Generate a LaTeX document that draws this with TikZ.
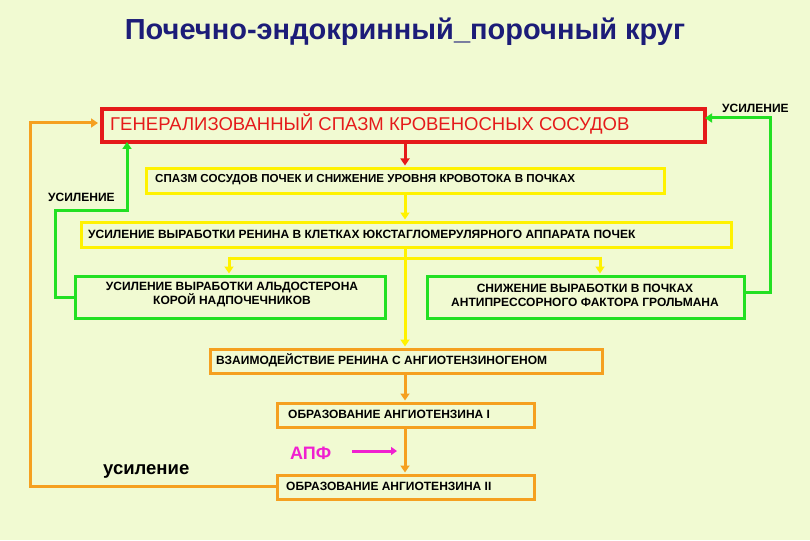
\documentclass[tikz,border=0pt]{standalone}
\usepackage{fontspec}
\setmainfont{Liberation Sans}
\usetikzlibrary{arrows.meta}
\definecolor{bg}{HTML}{F1FAD2}
\definecolor{tit}{HTML}{1C1C78}
\definecolor{rd}{HTML}{E51A1A}
\definecolor{yl}{HTML}{FFF200}
\definecolor{gr}{HTML}{22E022}
\definecolor{og}{HTML}{F5A020}
\definecolor{mg}{HTML}{F020D0}
\tikzset{x=1pt,y=-1pt,
 bx/.style={draw,line width=3pt,fill=bg,inner sep=0pt,anchor=north west},
 arr/.style={line width=3pt,-{Triangle[length=7pt,width=9pt]}},
 ln/.style={line width=3pt},
 tx/.style={font=\bfseries\fontsize{12}{14}\selectfont,inner sep=0pt}}
\begin{document}
\begin{tikzpicture}
\fill[bg] (0,0) rectangle (810,540);
\useasboundingbox (0,0) rectangle (810,540);
\node[font=\bfseries\fontsize{29}{34}\selectfont,text=tit] (title) at (405,32) {Почечно-эндокринный\_порочный круг};
% boxes
\node[bx,draw=rd,line width=4pt,minimum width=603pt,minimum height=33pt] (r) at (100,107) {};
\node[anchor=west,text=rd,font=\fontsize{18.5}{22}\selectfont,inner sep=0pt] at (110,124) {ГЕНЕРАЛИЗОВАННЫЙ СПАЗМ КРОВЕНОСНЫХ СОСУДОВ};
\node[bx,draw=yl,minimum width=518pt,minimum height=25pt] (y1) at (145,167) {};
\node[tx,anchor=west,font=\bfseries\fontsize{11.6}{14}\selectfont] at (155,180) {СПАЗМ СОСУДОВ ПОЧЕК И СНИЖЕНИЕ УРОВНЯ КРОВОТОКА В ПОЧКАХ};
\node[bx,draw=yl,minimum width=650pt,minimum height=25pt] (y2) at (80,221) {};
\node[tx,anchor=west] at (88,234) {УСИЛЕНИЕ ВЫРАБОТКИ РЕНИНА В КЛЕТКАХ ЮКСТАГЛОМЕРУЛЯРНОГО АППАРАТА ПОЧЕК};
\node[bx,draw=gr,minimum width=310pt,minimum height=42pt] (g1) at (74,275) {};
\node[tx,align=center] at (232,295) {УСИЛЕНИЕ ВЫРАБОТКИ АЛЬДОСТЕРОНА\\КОРОЙ НАДПОЧЕЧНИКОВ};
\node[bx,draw=gr,minimum width=317pt,minimum height=42pt] (g2) at (426,275) {};
\node[tx,align=center] at (585,295) {СНИЖЕНИЕ ВЫРАБОТКИ В ПОЧКАХ\\АНТИПРЕССОРНОГО ФАКТОРА ГРОЛЬМАНА};
\node[bx,draw=og,minimum width=392pt,minimum height=24pt] (o1) at (209,348) {};
\node[tx,anchor=west] at (216,360) {ВЗАИМОДЕЙСТВИЕ РЕНИНА С АНГИОТЕНЗИНОГЕНОМ};
\node[bx,draw=og,minimum width=257pt,minimum height=24pt] (o2) at (276,402) {};
\node[tx,anchor=west] at (288,414) {ОБРАЗОВАНИЕ АНГИОТЕНЗИНА I};
\node[bx,draw=og,minimum width=257pt,minimum height=24pt] (o3) at (276,474) {};
\node[tx,anchor=west] at (286,486) {ОБРАЗОВАНИЕ АНГИОТЕНЗИНА II};
% labels
\node[tx,anchor=west] (l1) at (48,197) {УСИЛЕНИЕ};
\node[tx,anchor=west] (l2) at (722,108) {УСИЛЕНИЕ};
\node[font=\bfseries\fontsize{18.5}{22}\selectfont,anchor=west,inner sep=0pt] (l3) at (103,471) {усиление};
\node[font=\bfseries\fontsize{18}{20}\selectfont,text=mg,anchor=west,inner sep=0pt] (apf) at (290,453) {АПФ};
\coordinate (m1) at (352,451); \coordinate (m2) at (397,451);
\draw[line width=3pt,mg,-{Triangle[length=6pt,width=8pt]}] (m1) -- (m2);
% main arrows
\draw[arr,rd] (405,142) -- (405,165.5);
\draw[arr,yl] (405,193.5) -- (405,219.5);
\draw[arr,yl] (405,247.5) -- (405,346.5);
\draw[ln,yl] (229,258) -- (600,258);
\draw[arr,yl] (229,256.5) -- (229,273.5);
\draw[arr,yl] (600,256.5) -- (600,273.5);
\draw[arr,og] (405,373.5) -- (405,400.5);
\draw[arr,og] (405,427.5) -- (405,472.5);
% feedback
\draw[arr,gr] (g1.west |- 0,297) -- (55,297) -- (55,210) -- (127,210) -- (127,142);
\draw[arr,gr] (g2.east |- 0,292) -- (770,292) -- (770,118) -- (705,118);
\draw[arr,og] (o3.west |- 0,486) -- (30,486) -- (30,123) -- (98,123);
\end{tikzpicture}
\end{document}
